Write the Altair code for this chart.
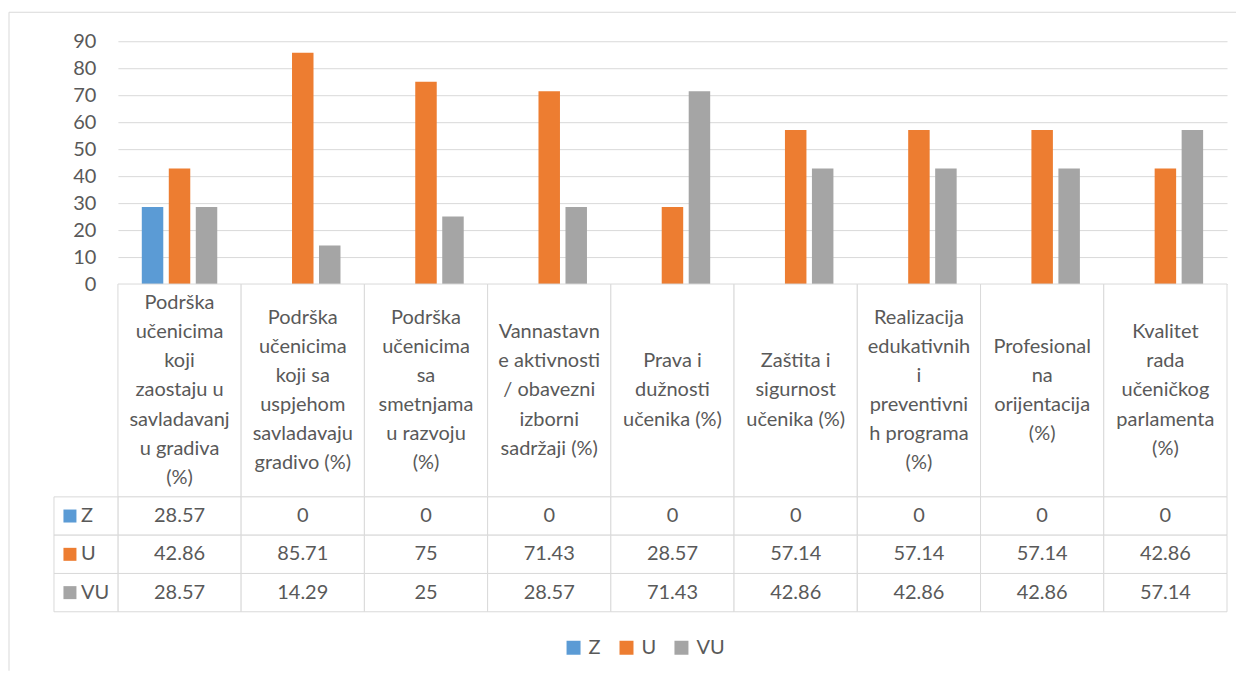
import altair as alt
import pandas as pd

categories = [
    "Podrška\nučenicima\nkoji\nzaostaju u\nsavladavanj\nu gradiva\n(%)",
    "Podrška\nučenicima\nkoji sa\nuspjehom\nsavladavaju\ngradivo (%)",
    "Podrška\nučenicima\nsa\nsmetnjama\nu razvoju\n(%)",
    "Vannastavn\ne aktivnosti\n/ obavezni\nizborni\nsadržaji (%)",
    "Prava i\ndužnosti\nučenika (%)",
    "Zaštita i\nsigurnost\nučenika (%)",
    "Realizacija\nedukativnih\ni\npreventivni\nh programa\n(%)",
    "Profesional\nna\norijentacija\n(%)",
    "Kvalitet\nrada\nučeničkog\nparlamenta\n(%)",
]
series = ["Z", "U", "VU"]
Z = [28.57, 0, 0, 0, 0, 0, 0, 0, 0]
U = [42.86, 85.71, 75, 71.43, 28.57, 57.14, 57.14, 57.14, 42.86]
VU = [28.57, 14.29, 25, 28.57, 71.43, 42.86, 42.86, 42.86, 57.14]
colors = ["#5b9bd5", "#ed7d31", "#a5a5a5"]
y_ticks = list(range(0, 91, 10))

rows = []
for s, vals in zip(series, [Z, U, VU]):
    for c, v in zip(categories, vals):
        rows.append({"category": c, "series": s, "value": v})
df = pd.DataFrame(rows)
df_cat = pd.DataFrame({"category": categories})
df_ser = pd.DataFrame({"series": series})
one = pd.DataFrame({"a": [0]})

TXT = "#595959"
GRID = "#d9d9d9"
FS = 20
W = 1110
HDR_H = 213
LH = 29.2
half = HDR_H / 2 / LH

xscale = alt.Scale(domain=categories, paddingInner=0, paddingOuter=0)
color = alt.Color("series:N", sort=series,
                  scale=alt.Scale(domain=series, range=colors),
                  legend=alt.Legend(orient="none", direction="horizontal",
                                    legendX=446, legendY=597, title=None,
                                    symbolType="square", symbolSize=196,
                                    symbolStrokeWidth=0, labelFontSize=FS,
                                    labelColor=TXT, labelOffset=5,
                                    columnPadding=15, padding=0))

bars = alt.Chart(df).mark_bar().encode(
    x=alt.X("category:N", sort=categories, scale=xscale, axis=None),
    xOffset=alt.XOffset("series:N", sort=series,
                        scale=alt.Scale(domain=series, paddingInner=0.204, paddingOuter=0.885)),
    y=alt.Y("value:Q", scale=alt.Scale(domain=[0, 90]),
            axis=alt.Axis(values=y_ticks, grid=True, gridColor=GRID, gridWidth=1,
                          domain=False, ticks=False, labelPadding=22,
                          labelFontSize=FS, labelColor=TXT, title=None)),
    color=color,
)

border_v = alt.Chart(one).mark_rule(color=GRID, strokeWidth=1).encode(
    x=alt.value(-109), y=alt.value(-29), y2=alt.value(630))
border_h = alt.Chart(one).mark_rule(color=GRID, strokeWidth=1).encode(
    x=alt.value(-109), x2=alt.value(1119), y=alt.value(-29))

top = alt.layer(border_v, border_h, bars).properties(width=W, height=243)

hdr_rect = alt.Chart(df_cat).mark_rect(fill="white", stroke=GRID, strokeWidth=1).encode(
    x=alt.X("category:N", sort=categories, scale=xscale, axis=None))
hdr_text = alt.Chart(df_cat).transform_calculate(
    yc="-(length(split(datum.category, '\\n')) - 1) / 2"
).mark_text(lineBreak="\n", fontSize=FS, color=TXT,
            baseline="middle", lineHeight=LH).encode(
    x=alt.X("category:N", sort=categories, scale=xscale, axis=None),
    y=alt.Y("yc:Q", scale=alt.Scale(domain=[-half, half], reverse=True), axis=None),
    text="category:N")
header = alt.layer(hdr_rect, hdr_text).properties(width=W, height=HDR_H)

yrow = alt.Y("series:N", sort=series, axis=None,
             scale=alt.Scale(domain=series, paddingInner=0, paddingOuter=0))
tab_rect = alt.Chart(df).mark_rect(fill="white", stroke=GRID, strokeWidth=1).encode(
    x=alt.X("category:N", sort=categories, scale=xscale, axis=None), y=yrow)
tab_text = alt.Chart(df).mark_text(fontSize=FS, color=TXT, baseline="middle").encode(
    x=alt.X("category:N", sort=categories, scale=xscale, axis=None), y=yrow,
    text=alt.Text("value:Q", format="~g"))
lab_rect = alt.Chart(df_ser).mark_rect(fill="white", stroke=GRID, strokeWidth=1).encode(
    x=alt.value(-64), x2=alt.value(0), y=yrow)
lab_sq = alt.Chart(df_ser).mark_square(size=169, opacity=1).encode(
    x=alt.value(-48), y=yrow,
    color=alt.Color("series:N", sort=series,
                    scale=alt.Scale(domain=series, range=colors), legend=None))
lab_text = alt.Chart(df_ser).mark_text(fontSize=FS, color=TXT, align="left",
                                       baseline="middle").encode(
    x=alt.value(-37), y=yrow, text="series:N")
table = alt.layer(tab_rect, tab_text, lab_rect, lab_sq, lab_text).properties(width=W, height=115)

chart = alt.vconcat(top, header, table, spacing=0, bounds="flush").resolve_scale(
    color="shared").properties(
    padding={"left": 0, "top": 3, "right": 0, "bottom": 0}
).configure(font="Lato", background="white").configure_view(stroke=None)

chart.save("out.html", embed_options={"renderer": "svg", "actions": False})
